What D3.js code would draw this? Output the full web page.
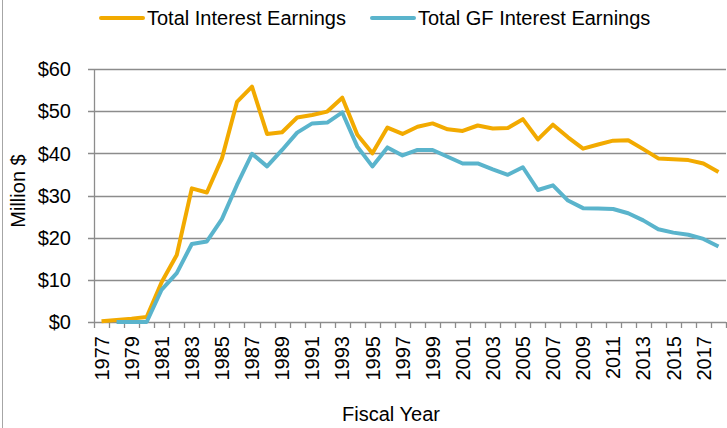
<!DOCTYPE html>
<html>
<head>
<meta charset="utf-8">
<script src="https://cdn.jsdelivr.net/npm/d3@7"></script>
<style>
  body { margin: 0; background: #fff; }
  svg { display: block; font-family: "Liberation Sans", Arial, sans-serif; }
</style>
</head>
<body>
<div id="chart"></div>
<script>
// Data (million $, fiscal years 1977-2018)
const years = d3.range(1977, 2019).map(String);
const totalInterest = [0.2, 0.5, 0.8, 1.2, 9.5, 15.9, 31.7, 30.7, 38.8, 52.2, 55.8, 44.6, 45.0, 48.5, 49.1, 49.9, 53.2, 44.4, 40.0, 46.1,
  44.6, 46.3, 47.1, 45.7, 45.3, 46.6, 45.9, 46.0, 48.1, 43.3, 46.8, 43.8, 41.1, 42.1, 43.0, 43.1, 41.0, 38.8, 38.6, 38.4, 37.6, 35.6];
const gfInterest = [null, 0, 0, 0, 7.7, 11.6, 18.5, 19.1, 24.4, 32.5, 39.9, 36.9, 40.8, 44.9, 47.1, 47.3, 49.7, 41.6, 36.9, 41.4,
  39.5, 40.8, 40.8, 39.2, 37.6, 37.6, 36.2, 34.9, 36.7, 31.3, 32.4, 28.8, 27.0, 26.9, 26.8, 25.8, 24.1, 22.0, 21.2, 20.7, 19.7, 17.9];
const yTicks = [0, 10, 20, 30, 40, 50, 60];
const seriesNames = ["Total Interest Earnings", "Total GF Interest Earnings"];
const seriesColors = ["#f2aa00", "#5ab4cc"];

const width = 727, height = 428;
const margin = {top: 69, right: 1, bottom: 106, left: 94};

const svg = d3.select("#chart")
  .append("svg")
  .attr("width", width)
  .attr("height", height);

// left border of the frame
svg.append("line")
  .attr("x1", 2.5).attr("x2", 2.5)
  .attr("y1", 0).attr("y2", height)
  .attr("stroke", "#a6a6a6")
  .attr("stroke-width", 1);

const x = d3.scaleBand()
  .domain(years)
  .range([margin.left, width - margin.right]);

const y = d3.scaleLinear()
  .domain([0, 60])
  .range([height - margin.bottom, margin.top]);

// gridlines
svg.append("g")
  .selectAll("line")
  .data(yTicks)
  .enter()
  .append("line")
    .attr("x1", margin.left - 6)
    .attr("x2", width - margin.right)
    .attr("y1", d => Math.round(y(d)) + 0.5)
    .attr("y2", d => Math.round(y(d)) + 0.5)
    .attr("stroke", "#8c8c8c")
    .attr("stroke-width", 1.3);

// y axis line
svg.append("line")
  .attr("x1", margin.left + 0.5).attr("x2", margin.left + 0.5)
  .attr("y1", y(60)).attr("y2", y(0))
  .attr("stroke", "#8c8c8c")
  .attr("stroke-width", 1.3);

// y tick labels
svg.append("g")
  .selectAll("text")
  .data(yTicks)
  .enter()
  .append("text")
    .attr("x", 71)
    .attr("y", d => y(d))
    .attr("dy", "0.36em")
    .attr("text-anchor", "end")
    .style("font-size", "20px")
    .style("fill", "#000")
    .text(d => "$" + d);

// x tick marks at category boundaries
const boundaries = years.map(d => x(d)).concat([x.range()[1]]);
svg.append("g")
  .selectAll("line")
  .data(boundaries)
  .enter()
  .append("line")
    .attr("x1", d => Math.round(d) + 0.5)
    .attr("x2", d => Math.round(d) + 0.5)
    .attr("y1", y(0))
    .attr("y2", y(0) + 6)
    .attr("stroke", "#8c8c8c")
    .attr("stroke-width", 1.3);

// x tick labels, every other year
svg.append("g")
  .selectAll("text")
  .data(years.filter((d, i) => i % 2 === 0))
  .enter()
  .append("text")
    .attr("transform", d => `translate(${x(d) + x.bandwidth() / 2},${y(0) + 14}) rotate(-90)`)
    .attr("dy", "0.36em")
    .attr("text-anchor", "end")
    .style("font-size", "20px")
    .style("fill", "#000")
    .text(d => d);

// axis titles
svg.append("text")
  .attr("transform", "translate(18,191) rotate(-90)")
  .attr("dy", "0.36em")
  .attr("text-anchor", "middle")
  .style("font-size", "20px")
  .text("Million $");

svg.append("text")
  .attr("x", 391)
  .attr("y", 421)
  .attr("text-anchor", "middle")
  .style("font-size", "20px")
  .text("Fiscal Year");

// lines
const line = d3.line()
  .defined(d => d[1] !== null)
  .x(d => x(d[0]) + x.bandwidth() / 2)
  .y(d => y(d[1]));

[totalInterest, gfInterest].forEach(function (values, i) {
  svg.append("path")
    .datum(years.map((yr, j) => [yr, values[j]]))
    .attr("d", line)
    .attr("fill", "none")
    .attr("stroke", seriesColors[i])
    .attr("stroke-width", 4)
    .attr("stroke-linejoin", "round")
    .attr("stroke-linecap", "butt");
});

// legend
const legendX = [101, 372];
const legend = svg.append("g")
  .selectAll("g")
  .data(seriesNames)
  .enter()
  .append("g")
    .attr("transform", (d, i) => `translate(${legendX[i]},18)`);

legend.append("line")
  .attr("x1", 0).attr("x2", 42)
  .attr("stroke", (d, i) => seriesColors[i])
  .attr("stroke-width", 4)
  .attr("stroke-linecap", "round");

legend.append("text")
  .attr("x", 46)
  .attr("dy", "0.36em")
  .style("font-size", "20px")
  .text(d => d);
</script>
</body>
</html>
